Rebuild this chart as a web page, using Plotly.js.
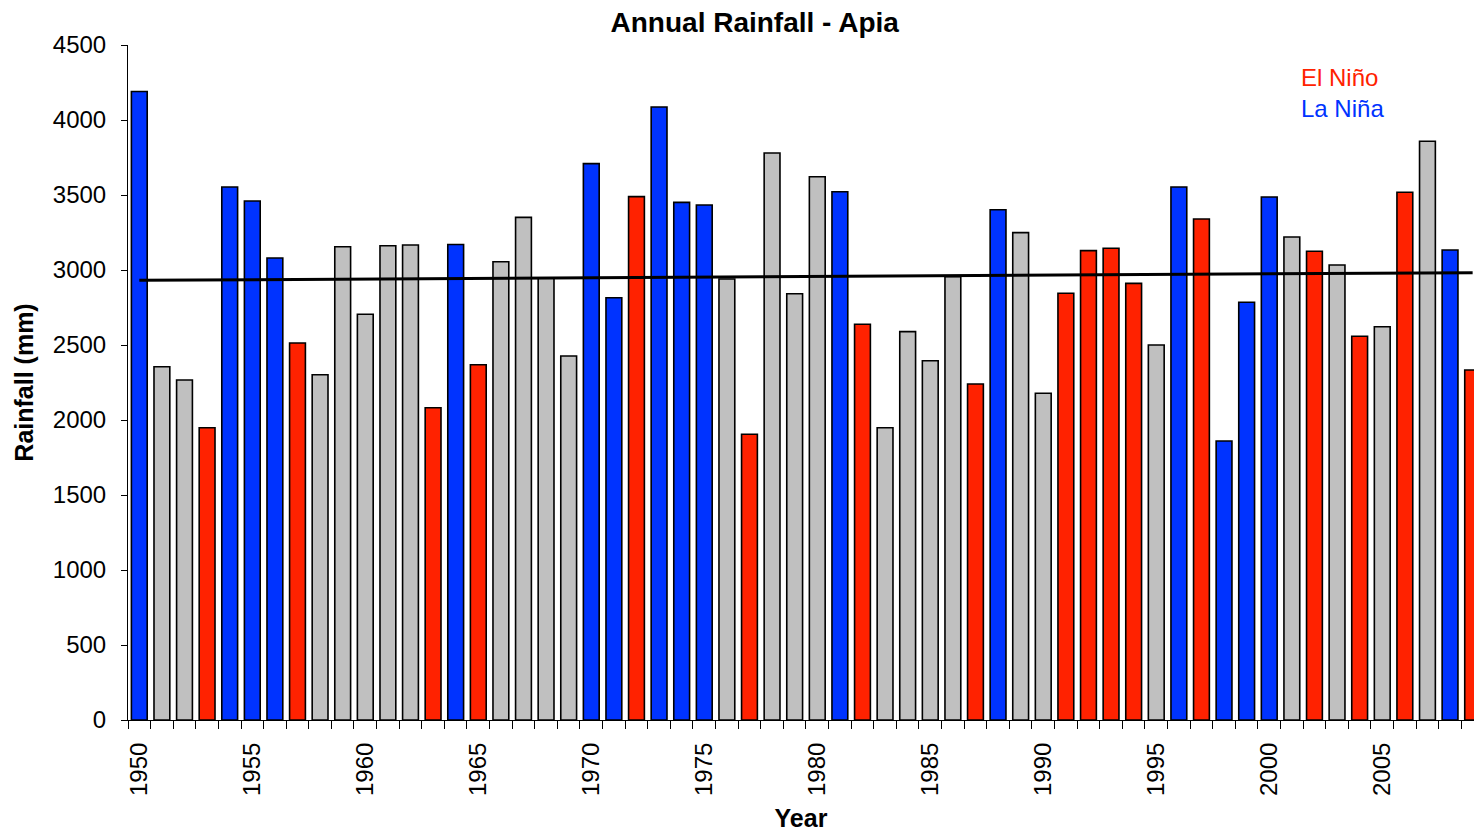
<!DOCTYPE html>
<html>
<head>
<meta charset="utf-8">
<script src="https://cdn.plot.ly/plotly-3.0.1.min.js"></script>
<style>
  html, body { margin: 0; padding: 0; background: #ffffff; }
  #chart { width: 1474px; height: 832px; }
</style>
</head>
<body>
<div id="chart"></div>
<script>
// Annual rainfall at Apia, 1950-2009, with ENSO phase for each year
const years = [
  1950, 1951, 1952, 1953, 1954, 1955, 1956, 1957, 1958, 1959,
  1960, 1961, 1962, 1963, 1964, 1965, 1966, 1967, 1968, 1969,
  1970, 1971, 1972, 1973, 1974, 1975, 1976, 1977, 1978, 1979,
  1980, 1981, 1982, 1983, 1984, 1985, 1986, 1987, 1988, 1989,
  1990, 1991, 1992, 1993, 1994, 1995, 1996, 1997, 1998, 1999,
  2000, 2001, 2002, 2003, 2004, 2005, 2006, 2007, 2008, 2009
];

const rainfall = [
  4190, 2355, 2267, 1948, 3553, 3460, 3080, 2513, 2302, 3155,
  2705, 3162, 3167, 2082, 3170, 2368, 3055, 3351, 2945, 2427,
  3709, 2815, 3489, 4087, 3451, 3433, 2940, 1905, 3780, 2842,
  3622, 3522, 2638, 1948, 2589, 2395, 2955, 2240, 3402, 3249,
  2178, 2845, 3129, 3145, 2911, 2500, 3553, 3340, 1860, 2785,
  3487, 3220, 3125, 3033, 2558, 2622, 3518, 3858, 3133, 2333
];

// E = El Niño, L = La Niña, N = neutral
const phase = [
  'L','N','N','E','L','L','L','E','N','N',
  'N','N','N','E','L','E','N','N','N','N',
  'L','L','E','L','L','L','N','E','N','N',
  'N','L','E','N','N','N','N','E','L','N',
  'N','E','E','E','E','N','L','E','L','L',
  'L','N','E','N','E','N','E','N','L','E'
];

const yearTicks = [1950, 1955, 1960, 1965, 1970, 1975, 1980, 1985, 1990, 1995, 2000, 2005];
const rainTicks = [0, 500, 1000, 1500, 2000, 2500, 3000, 3500, 4000, 4500];

const phaseColor = { E: '#ff2200', L: '#0033ff', N: '#c0c0c0' };

// Least-squares linear trend through the annual totals
const n = years.length;
const mx = years.reduce((a, b) => a + b, 0) / n;
const my = rainfall.reduce((a, b) => a + b, 0) / n;
let sxy = 0, sxx = 0;
for (let i = 0; i < n; i++) {
  sxy += (years[i] - mx) * (rainfall[i] - my);
  sxx += (years[i] - mx) * (years[i] - mx);
}
const slope = sxy / sxx;
const trendX = [years[0], years[n - 1]];
const trendY = trendX.map(x => my + slope * (x - mx));

const bars = {
  type: 'bar',
  x: years,
  y: rainfall,
  width: 0.7,
  marker: {
    color: phase.map(p => phaseColor[p]),
    line: { color: '#000000', width: 1.6 }
  },
  hoverinfo: 'x+y',
  showlegend: false
};

const trend = {
  type: 'scatter',
  mode: 'lines',
  x: trendX,
  y: trendY,
  line: { color: '#000000', width: 3 },
  hoverinfo: 'skip',
  showlegend: false
};

const FONT = 'Liberation Sans, Arial, sans-serif';
const axisFont = { family: FONT, size: 24, color: '#000000' };

const layout = {
  width: 1474,
  height: 832,
  paper_bgcolor: '#ffffff',
  plot_bgcolor: '#ffffff',
  margin: { l: 128, r: 0, t: 45, b: 112 },
  bargap: 0.3,
  title: {
    text: '<b>Annual Rainfall - Apia</b>',
    font: { family: FONT, size: 28, color: '#000000' },
    xref: 'container', x: 0.512, xanchor: 'center',
    yref: 'container', y: 0.973, yanchor: 'middle'
  },
  xaxis: {
    range: [1949.5, 2009.06],
    tickmode: 'array',
    tickvals: yearTicks,
    ticktext: yearTicks.map(String),
    ticks: '',
    tickangle: -90,
    tickfont: axisFont,
    ticklabelstandoff: 12,
    showgrid: false,
    zeroline: false,
    showline: true,
    linecolor: '#000000',
    linewidth: 1,
    minor: {
      tickmode: 'linear',
      tick0: 1949.5,
      dtick: 1,
      ticks: 'outside',
      ticklen: 8,
      tickwidth: 1,
      tickcolor: '#000000',
      showgrid: false
    },
    title: {
      text: '<b>Year</b>',
      font: { family: FONT, size: 25, color: '#000000' },
      standoff: 16
    },
    fixedrange: true
  },
  yaxis: {
    range: [0, 4500],
    tickmode: 'array',
    tickvals: rainTicks,
    ticktext: rainTicks.map(String),
    ticks: 'outside',
    ticklen: 6,
    tickwidth: 1,
    tickcolor: '#000000',
    tickfont: axisFont,
    ticklabelstandoff: 10,
    showgrid: false,
    zeroline: false,
    showline: true,
    linecolor: '#000000',
    linewidth: 1,
    title: {
      text: '<b>Rainfall (mm)</b>',
      font: { family: FONT, size: 25, color: '#000000' },
      standoff: 12
    },
    fixedrange: true
  },
  annotations: [
    {
      text: 'El Niño', xref: 'paper', yref: 'paper',
      x: (1299 - 128) / 1346, y: (720 - 78) / 675,
      xanchor: 'left', yanchor: 'middle', showarrow: false,
      font: { family: FONT, size: 24, color: '#ff2200' }
    },
    {
      text: 'La Niña', xref: 'paper', yref: 'paper',
      x: (1299 - 128) / 1346, y: (720 - 109) / 675,
      xanchor: 'left', yanchor: 'middle', showarrow: false,
      font: { family: FONT, size: 24, color: '#0033ff' }
    }
  ]
};

Plotly.newPlot('chart', [bars, trend], layout, { displayModeBar: false, staticPlot: true });
</script>
</body>
</html>
